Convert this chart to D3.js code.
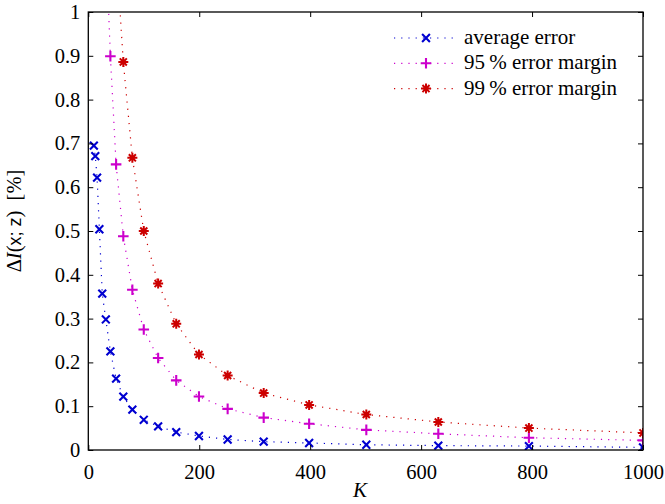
<!DOCTYPE html>
<html>
<head>
<meta charset="utf-8">
<script src="https://cdn.jsdelivr.net/npm/d3@7"></script>
<style>
  body { margin: 0; background: #fff; }
  svg text { font-family: "Liberation Serif", "DejaVu Serif", serif; fill: #000; }
</style>
</head>
<body>
<svg width="665" height="504"></svg>
<script>
// K values (log spaced, 10 per decade)
var kValues = [10, 12.59, 15.85, 19.95, 25.12, 31.62, 39.81, 50.12, 63.1, 79.43,
               100, 125.9, 158.5, 199.5, 251.2, 316.2, 398.1, 501.2, 631, 794.3, 1000];

// average error [%]
var avgError = [0.695, 0.671, 0.622, 0.504, 0.357, 0.298, 0.225, 0.163, 0.122, 0.092,
                0.069, 0.054, 0.041, 0.032, 0.024, 0.019, 0.016, 0.012, 0.010, 0.009, 0.006];

// 95% margin, starts at K = 31.62 (earlier points are above the plot)
var k95 = kValues.slice(5);
var margin95 = [1.16, 0.899, 0.652, 0.488, 0.366, 0.275, 0.210, 0.159, 0.122, 0.094,
                0.074, 0.060, 0.046, 0.037, 0.028, 0.022];

// 99% margin, starts at K = 50.12
var k99 = kValues.slice(7);
var margin99 = [1.14, 0.886, 0.667, 0.500, 0.380, 0.288, 0.218, 0.170, 0.130, 0.103,
                0.081, 0.064, 0.050, 0.039];

var xTicks = [0, 200, 400, 600, 800, 1000];
var yTicks = d3.range(0, 11).map(function(i) { return i / 10; });

var series = [
  {label: "average error", color: "#0000d0", marker: "x", ks: kValues, vals: avgError},
  {label: "95\u2009% error margin", color: "#cc00cc", marker: "plus", ks: k95, vals: margin95},
  {label: "99\u2009% error margin", color: "#cc0000", marker: "star", ks: k99, vals: margin99}
];

var svg = d3.select("svg");
// plot box (note: "top" is reserved on window, so use other names)
var pLeft = 88.3, pRight = 643, pTop = 12, pBottom = 450;

var x = d3.scaleLinear().domain([0, 1000]).range([pLeft, pRight]);
var y = d3.scaleLinear().domain([0, 1]).range([pBottom, pTop]);

svg.append("clipPath").attr("id", "plotclip")
  .append("rect")
    .attr("x", pLeft).attr("y", pTop)
    .attr("width", pRight - pLeft).attr("height", pBottom - pTop);

// marker paths
function markerPath(type) {
  if (type === "x") {
    var s = 3.9;
    return "M" + -s + "," + -s + "L" + s + "," + s + "M" + -s + "," + s + "L" + s + "," + -s;
  }
  if (type === "plus") {
    var p = 5.3;
    return "M" + -p + ",0L" + p + ",0M0," + -p + "L0," + p;
  }
  var r = 5, d = "";
  for (var i = 0; i < 4; i++) {
    var a = i * Math.PI / 4;
    d += "M" + (-r * Math.cos(a)) + "," + (-r * Math.sin(a)) + "L" + (r * Math.cos(a)) + "," + (r * Math.sin(a));
  }
  return d;
}

var line = d3.line()
  .x(function(d) { return x(d[0]); })
  .y(function(d) { return y(d[1]); });

var plot = svg.append("g").attr("clip-path", "url(#plotclip)");

series.forEach(function(s) {
  var pts = s.ks.map(function(k, i) { return [k, s.vals[i]]; });
  plot.append("path")
    .datum(pts)
    .attr("d", line)
    .attr("fill", "none")
    .attr("stroke", s.color)
    .attr("stroke-width", 1.2)
    .attr("stroke-dasharray", "1.2 6");
  plot.selectAll(null)
    .data(pts)
    .enter().append("path")
      .attr("transform", function(d) { return "translate(" + x(d[0]) + "," + y(d[1]) + ")"; })
      .attr("d", markerPath(s.marker))
      .attr("fill", "none")
      .attr("stroke", s.color)
      .attr("stroke-width", s.marker === "star" ? 2 : 2.1);
});

// axes with inner ticks on all four sides
var tickLen = 5;
svg.append("g")
  .attr("transform", "translate(0," + pBottom + ")")
  .call(d3.axisBottom(x).tickValues(xTicks).tickSize(-tickLen).tickPadding(14).tickFormat(d3.format("d")));
svg.append("g")
  .attr("transform", "translate(0," + pTop + ")")
  .call(d3.axisTop(x).tickValues(xTicks).tickSize(-tickLen).tickFormat(""));
svg.append("g")
  .attr("transform", "translate(" + pLeft + ",0)")
  .call(d3.axisLeft(y).tickValues(yTicks).tickSize(-tickLen).tickPadding(8)
    .tickFormat(function(d) { return d === 0 || d === 1 ? d3.format("d")(d) : d3.format(".1f")(d); }));
svg.append("g")
  .attr("transform", "translate(" + pRight + ",0)")
  .call(d3.axisRight(y).tickValues(yTicks).tickSize(-tickLen).tickFormat(""));

svg.selectAll(".domain").remove();
svg.selectAll(".tick line").attr("stroke", "#000").attr("stroke-width", 1);
svg.selectAll(".tick text")
  .style("font-family", "'Liberation Serif', serif")
  .style("font-size", "20.5px");

// frame
svg.append("rect")
  .attr("x", pLeft).attr("y", pTop)
  .attr("width", pRight - pLeft).attr("height", pBottom - pTop)
  .attr("fill", "none").attr("stroke", "#000").attr("stroke-width", 1.3);

// axis labels
svg.append("text")
  .attr("x", 360).attr("y", 497)
  .attr("text-anchor", "middle")
  .style("font-size", "21px").style("font-style", "italic")
  .text("K");

var yl = svg.append("text")
  .attr("transform", "translate(21,221) rotate(-90)")
  .attr("text-anchor", "middle")
  .style("font-size", "20.5px");
yl.append("tspan").text("\u0394");
yl.append("tspan").style("font-style", "italic").text("I");
yl.append("tspan").text("(");
yl.append("tspan").style("font-family", "'Liberation Sans', sans-serif").style("font-size", "18px").text("x; z");
yl.append("tspan").text(")\u2002[%]");

// legend
var legend = svg.append("g");
series.forEach(function(s, i) {
  var ly = 38 + i * 25.3;
  legend.append("line")
    .attr("x1", 394).attr("x2", 454).attr("y1", ly).attr("y2", ly)
    .attr("stroke", s.color).attr("stroke-width", 1.2)
    .attr("stroke-dasharray", "1.2 6");
  legend.append("path")
    .attr("transform", "translate(426," + ly + ")")
    .attr("d", markerPath(s.marker))
    .attr("fill", "none").attr("stroke", s.color)
    .attr("stroke-width", s.marker === "star" ? 2 : 2.1);
  legend.append("text")
    .attr("x", 464).attr("y", ly + 6)
    .style("font-size", "21px")
    .text(s.label);
});
</script>
</body>
</html>
